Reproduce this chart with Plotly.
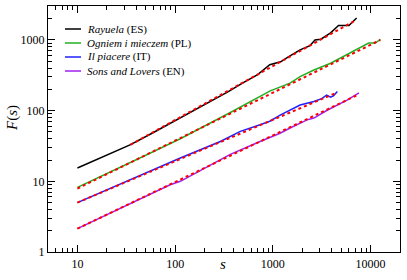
import plotly.graph_objects as go

# ---- data ----
rayuela_s = [10, 20, 35, 60, 113, 200, 350, 483, 590, 700, 930, 1200, 1440, 1900,
             2400, 2700, 3100, 3900, 4700, 6000, 6500, 7200]
rayuela_F = [15.4, 23.6, 33, 49, 78.6, 121, 186, 243, 282, 324, 446, 490, 575, 725,
             832, 1000, 1023, 1260, 1600, 1600, 1780, 2040]
rayuela_fit_s = [35, 7000]
rayuela_fit_F = [33, 1890]

ogniem_s = [10, 20, 50, 113, 200, 367, 940, 1200, 1500, 1900, 2630, 3900, 5750,
            7240, 9550, 11200, 12600]
ogniem_F = [8.2, 12.8, 23.4, 40, 60, 94, 190, 216, 245, 302, 375, 468, 617,
            724, 904, 904, 1023]
ogniem_fit_s = [10, 12600]
ogniem_fit_F = [7.9, 998]

piacere_s = [10, 89, 113, 290, 465, 740, 930, 1200, 1500, 1900, 2630, 3160, 3550,
             3900, 4170, 4570]
piacere_F = [5.0, 19, 21.4, 36.6, 50.8, 63, 70.8, 87, 102, 120, 135, 148, 166,
             155, 162, 186]
piacere_fit_s = [10, 4500]
piacere_fit_F = [5.0, 179]

sons_s = [10, 89, 113, 367, 740, 1200, 1500, 2240, 2630, 3630, 5750, 7600]
sons_F = [2.14, 8.95, 10, 24, 36.6, 48.2, 56.8, 74, 78.5, 102, 141, 178]
sons_fit_s = [10, 7600]
sons_fit_F = [2.14, 170]

names = ["<i>Rayuela</i> (ES)", "<i>Ogniem i mieczem</i> (PL)",
         "<i>Il piacere</i> (IT)", "<i>Sons and Lovers</i> (EN)"]
colors = ["#000000", "#22b022", "#2020ff", "#a020f0"]

x_ticks = [10, 100, 1000, 10000]
y_ticks = [1, 10, 100, 1000]

series = [(rayuela_s, rayuela_F, rayuela_fit_s, rayuela_fit_F),
          (ogniem_s, ogniem_F, ogniem_fit_s, ogniem_fit_F),
          (piacere_s, piacere_F, piacere_fit_s, piacere_fit_F),
          (sons_s, sons_F, sons_fit_s, sons_fit_F)]

W, H = 407, 280
ML, MR, MT, MB = 48, 7, 6, 28
PW, PH = W - ML - MR, H - MT - MB


def px(xp):
    return (xp - ML) / PW


def py(yp):
    return (H - MB - yp) / PH


fig = go.Figure()
for (s, F, fs, fF), name, col in zip(series, names, colors):
    fig.add_trace(go.Scatter(x=s, y=F, mode="lines", name=name, showlegend=False,
                             line=dict(color=col, width=1.5)))
for (s, F, fs, fF) in series:
    fig.add_trace(go.Scatter(x=fs, y=fF, mode="lines", showlegend=False,
                             line=dict(color="#ff0000", width=2, dash="dot")))

FONT = "Liberation Serif"
axis_common = dict(type="log", showline=True, linecolor="black", linewidth=1.2,
                   mirror="allticks", ticks="inside", ticklen=7, tickcolor="black",
                   showgrid=False, zeroline=False, automargin=False,
                   tickfont=dict(family=FONT, size=12, color="black"),
                   minor=dict(ticks="inside", ticklen=4, tickcolor="black",
                              dtick="D1", showgrid=False))

fig.update_xaxes(**axis_common, range=[0.699, 4.301], tickmode="array",
                 tickvals=x_ticks, ticktext=[str(v) for v in x_ticks])
fig.update_yaxes(**axis_common, range=[0, 3.48], tickmode="array",
                 tickvals=y_ticks, ticktext=[str(v) for v in y_ticks])

shapes = []
annotations = []
# legend (manual, to match the compact spacing of the reference)
for i, (name, col) in enumerate(zip(names, colors)):
    yy = py(29 + 14 * i)
    shapes.append(dict(type="line", xref="paper", yref="paper",
                       x0=px(65), x1=px(81), y0=yy, y1=yy,
                       line=dict(color=col, width=1.5)))
    annotations.append(dict(text=name, xref="paper", yref="paper",
                            x=px(85), y=yy, xanchor="left", yanchor="middle",
                            showarrow=False, font=dict(family=FONT, size=11, color="black")))

# axis titles
annotations.append(dict(text="<i>s</i>", xref="paper", yref="paper",
                        x=px(223), y=py(264), xanchor="center", yanchor="middle",
                        showarrow=False, font=dict(family=FONT, size=15, color="black")))
annotations.append(dict(text="<i>F</i>(<i>s</i>)", xref="paper", yref="paper",
                        x=px(12), y=py(118), xanchor="center", yanchor="middle",
                        textangle=-90, showarrow=False,
                        font=dict(family=FONT, size=15, color="black")))

fig.update_layout(
    width=W, height=H,
    margin=dict(l=ML, r=MR, t=MT, b=MB),
    paper_bgcolor="white", plot_bgcolor="white",
    font=dict(family=FONT, color="black"),
    showlegend=False,
    shapes=shapes, annotations=annotations,
)

fig.write_html("out.html", config={"displayModeBar": False},
               post_script="document.body.style.margin='0';document.body.style.padding='0';")
